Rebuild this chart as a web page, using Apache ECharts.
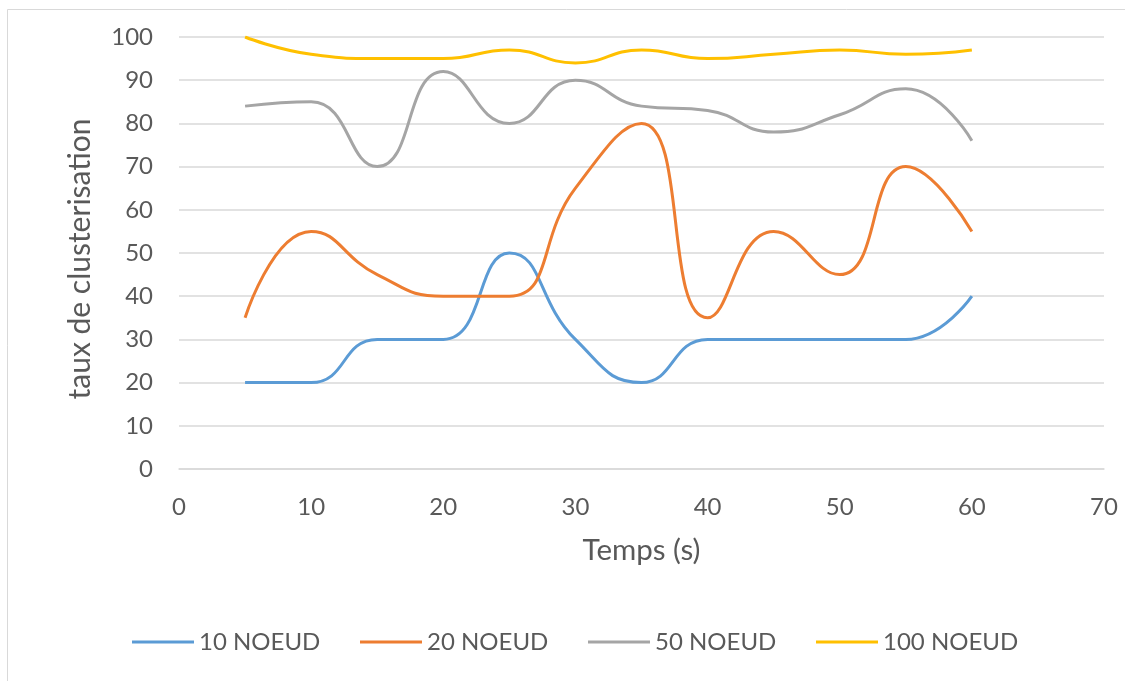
<!DOCTYPE html>
<html>
<head>
<meta charset="utf-8">
<script src="https://cdn.jsdelivr.net/npm/echarts@6/dist/echarts.min.js"></script>
<style>
  html, body { margin: 0; padding: 0; background: #fff; }
  #chart { width: 1125px; height: 681px; }
</style>
</head>
<body>
<div id="chart"></div>
<script>
// Sampling times (s)
const times = [5, 10, 15, 20, 25, 30, 35, 40, 45, 50, 55, 60];

// Clustering rate per network size
const noeud10  = [20, 20, 30, 30, 50, 30, 20, 30, 30, 30, 30, 40];
const noeud20  = [35, 55, 45, 40, 40, 65, 80, 35, 55, 45, 70, 55];
const noeud50  = [84, 85, 70, 92, 80, 90, 84, 83, 78, 82, 88, 76];
const noeud100 = [100, 96, 95, 95, 97, 94, 97, 95, 96, 97, 96, 97];

const seriesNames = ['10 NOEUD', '20 NOEUD', '50 NOEUD', '100 NOEUD'];
const seriesValues = [noeud10, noeud20, noeud50, noeud100];
const seriesColors = ['#5B9BD5', '#ED7D31', '#A5A5A5', '#FFC000'];

const FONT = 'Lato, "Open Sans", sans-serif';
const TEXT = '#595959';

const chart = echarts.init(document.getElementById('chart'), null, { renderer: 'canvas' });

// one legend block per series, laid out left to right along the bottom
const legends = seriesNames.map((name, i) => ({
  left: 132 + 228 * i,
  top: 630,
  padding: 0,
  itemWidth: 62,
  itemHeight: 3,
  itemGap: 0,
  icon: 'rect',
  textStyle: { fontFamily: FONT, fontSize: 24, color: TEXT, padding: [0, 0, 0, 0] },
  data: [name]
}));

chart.setOption({
  backgroundColor: '#ffffff',
  animation: false,
  textStyle: { fontFamily: FONT, color: TEXT },
  graphic: [{
    type: 'rect',
    shape: { x: 7.5, y: 9.5, width: 1300, height: 900 },
    style: { fill: 'none', stroke: '#d9d9d9', lineWidth: 1 },
    silent: true,
    z: -1
  }],
  grid: { left: 179, right: 21, top: 37, bottom: 212, containLabel: false },
  legend: legends,
  xAxis: {
    type: 'value',
    min: 0,
    max: 70,
    interval: 10,
    name: 'Temps (s)',
    nameLocation: 'middle',
    nameGap: 66,
    nameTextStyle: { fontFamily: FONT, fontSize: 29.5, color: TEXT },
    axisLine: { show: true, lineStyle: { color: '#d9d9d9', width: 1.5 } },
    axisTick: { show: false },
    axisLabel: { margin: 26, fontFamily: FONT, fontSize: 24, color: TEXT },
    splitLine: { show: false }
  },
  yAxis: {
    type: 'value',
    min: 0,
    max: 100,
    interval: 10,
    name: 'taux de clusterisation',
    nameLocation: 'middle',
    nameGap: 84,
    nameTextStyle: { fontFamily: FONT, fontSize: 30, color: TEXT, padding: [0, 12, 0, 0] },
    axisLine: { show: false },
    axisTick: { show: false },
    axisLabel: { margin: 26, fontFamily: FONT, fontSize: 24, color: TEXT },
    splitLine: { show: true, lineStyle: { color: '#d9d9d9', width: 1.5 } }
  },
  series: seriesNames.map((name, i) => ({
    name: name,
    type: 'line',
    smooth: 0.5,
    symbol: 'none',
    color: seriesColors[i],
    lineStyle: { width: 3, color: seriesColors[i] },
    data: times.map((t, j) => [t, seriesValues[i][j]])
  }))
});
</script>
</body>
</html>
